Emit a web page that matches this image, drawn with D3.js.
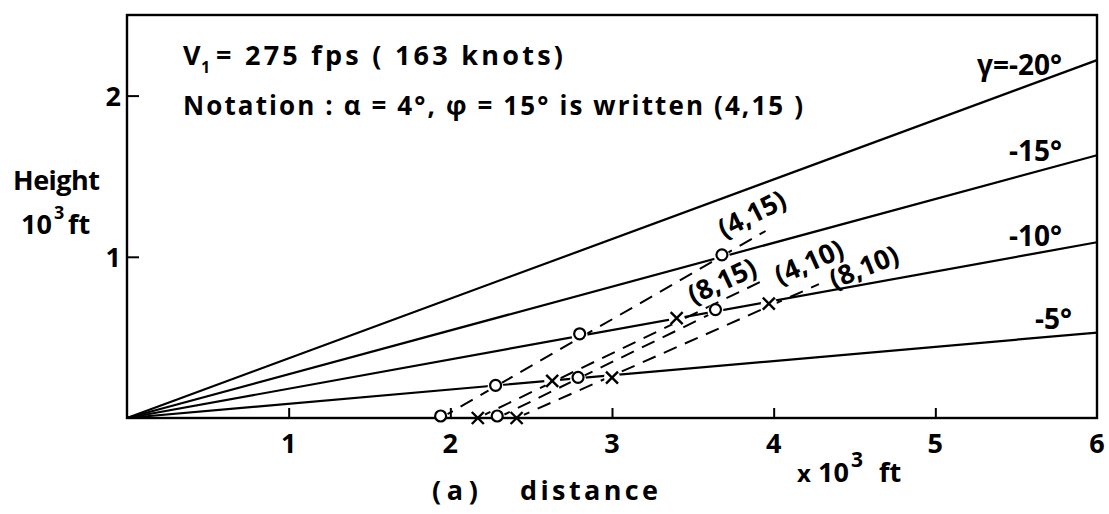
<!DOCTYPE html>
<html>
<head>
<meta charset="utf-8">
<script src="https://cdn.jsdelivr.net/npm/d3@7"></script>
<style>
  body { margin: 0; background: #fff; }
  text { font-family: "Open Sans", "DejaVu Sans", sans-serif; font-weight: 700; fill: #000; }
</style>
</head>
<body>
<svg id="chart" width="1109" height="514"></svg>
<script>
// Axis ticks (distance and height, 10^3 ft)
const xTicks = [1, 2, 3, 4, 5, 6];
const yTicks = [1, 2];

// Flight-path angle lines: label and height reached at 6 x 10^3 ft distance
const gammaLabels = ["γ=-20°", "-15°", "-10°", "-5°"];
const gammaHeightAt6 = [2.22, 1.63, 1.09, 0.53];

// Cases written (alpha, phi); marker type, points where each path meets a gamma line
const caseLabels = ["(4,15)", "(8,15)", "(4,10)", "(8,10)"];
const caseMarkers = ["o", "o", "x", "x"];
const caseDist = [
  [1.94, 2.28, 2.80, 3.68],
  [2.29, 2.79, 3.64],
  [2.17, 2.63, 3.40],
  [2.41, 3.00, 3.97]
];
const caseHeight = [
  [0.00, 0.19, 0.51, 1.00],
  [0.00, 0.24, 0.66],
  [0.00, 0.23, 0.62],
  [0.00, 0.25, 0.71]
];
// where each dashed path runs out, next to its label
const caseEndDist = [3.95, 3.64, 3.95, 4.28];
const caseEndHeight = [1.16, 0.66, 0.86, 0.83];

const svg = d3.select("#chart");
const x = d3.scaleLinear().domain([0, 6]).range([127, 1097]);
const y = d3.scaleLinear().domain([0, 2.5]).range([418, 15]);

// gamma lines from the origin
const line = d3.line().x(d => x(d[0])).y(d => y(d[1]));
svg.append("g").selectAll("path")
  .data(gammaHeightAt6)
  .join("path")
  .attr("d", h => line([[0, 0], [6, h]]))
  .attr("fill", "none").attr("stroke", "#000").attr("stroke-width", 2.2);

// dashed trajectories for each case
const cases = caseLabels.map((lab, i) => ({
  label: lab,
  marker: caseMarkers[i],
  pts: caseDist[i].map((d, j) => [d, caseHeight[i][j]]),
  end: [caseEndDist[i], caseEndHeight[i]]
}));

const allPts = cases.flatMap(c => c.pts.map(p => ({ p, m: c.marker })));

svg.append("g").selectAll("path")
  .data(cases)
  .join("path")
  .attr("d", c => line([c.pts[0], c.end]))
  .attr("fill", "none").attr("stroke", "#000").attr("stroke-width", 2)
  .attr("stroke-dasharray", "14,9");

// white halos leave small gaps in the lines around each marker
svg.append("g").selectAll("circle")
  .data(allPts)
  .join("circle")
  .attr("cx", d => x(d.p[0])).attr("cy", d => y(d.p[1]))
  .attr("r", 8).attr("fill", "#fff");

// frame
svg.append("rect")
  .attr("x", x(0)).attr("y", y(2.5))
  .attr("width", x(6) - x(0)).attr("height", y(0) - y(2.5))
  .attr("fill", "none").attr("stroke", "#000").attr("stroke-width", 2.4);

// markers
const mk = svg.append("g");
allPts.filter(d => d.m === "o").forEach(d => {
  mk.append("circle").attr("cx", x(d.p[0])).attr("cy", y(d.p[1]) - 2)
    .attr("r", 5.5).attr("fill", "#fff").attr("stroke", "#000").attr("stroke-width", 2.2);
});
allPts.filter(d => d.m === "x").forEach(d => {
  const cx = x(d.p[0]), cy = y(d.p[1]), s = 6;
  mk.append("path")
    .attr("d", `M${cx - s},${cy - s}L${cx + s},${cy + s}M${cx + s},${cy - s}L${cx - s},${cy + s}`)
    .attr("stroke", "#000").attr("stroke-width", 2.4);
});

// ticks drawn inside the frame
const xAxis = d3.axisTop(x).tickValues(xTicks.slice(0, 5)).tickSize(10).tickFormat("");
svg.append("g").attr("transform", `translate(0,${y(0)})`).call(xAxis)
  .call(g => g.select(".domain").remove())
  .call(g => g.selectAll("line").attr("stroke-width", 2));
const yAxis = d3.axisRight(y).tickValues(yTicks).tickSize(12).tickFormat("");
svg.append("g").attr("transform", `translate(${x(0)},0)`).call(yAxis)
  .call(g => g.select(".domain").remove())
  .call(g => g.selectAll("line").attr("stroke-width", 2));

// tick labels
svg.append("g").selectAll("text")
  .data(xTicks).join("text")
  .attr("x", d => x(d)).attr("y", 453)
  .attr("text-anchor", "middle").attr("font-size", 27)
  .text(d => d);
svg.append("g").selectAll("text")
  .data(yTicks).join("text")
  .attr("x", 121).attr("y", d => y(d) + 10)
  .attr("text-anchor", "end").attr("font-size", 27)
  .text(d => d);

// gamma line labels
const gPos = [[1062, 75], [1062, 161], [1062, 246], [1072, 329]];
svg.append("g").selectAll("text")
  .data(gammaLabels).join("text")
  .attr("x", (d, i) => gPos[i][0]).attr("y", (d, i) => gPos[i][1])
  .attr("text-anchor", "end").attr("font-size", 28)
  .text(d => d);

// case labels along their paths
const lPos = [[752, 214, -27], [722, 281, -25], [809, 262, -24], [864, 267, -22]];
svg.append("g").selectAll("text")
  .data(caseLabels).join("text")
  .attr("transform", (d, i) => `translate(${lPos[i][0]},${lPos[i][1]}) rotate(${lPos[i][2]})`)
  .attr("text-anchor", "middle").attr("dy", "0.35em").attr("font-size", 27)
  .text(d => d);

// header notes
svg.append("text").attr("x", 183).attr("y", 65).attr("font-size", 27).text("V");
svg.append("text").attr("x", 201).attr("y", 73).attr("font-size", 16).text("1");
svg.append("text").attr("x", 216).attr("y", 65).attr("font-size", 27)
  .attr("textLength", 347).attr("lengthAdjust", "spacing")
  .text("= 275 fps ( 163 knots)");
svg.append("text").attr("x", 183).attr("y", 115).attr("font-size", 26)
  .attr("textLength", 620).attr("lengthAdjust", "spacing")
  .text("Notation :  α = 4°,  φ = 15° is written (4,15 )");

// axis titles
svg.append("text").attr("x", 13).attr("y", 190).attr("font-size", 27)
  .attr("textLength", 87).attr("lengthAdjust", "spacing").text("Height");
svg.append("text").attr("x", 21).attr("y", 234).attr("font-size", 27).text("10");
svg.append("text").attr("x", 54).attr("y", 219).attr("font-size", 18).text("3");
svg.append("text").attr("x", 68).attr("y", 234).attr("font-size", 27).text("ft");

svg.append("text").attr("x", 797).attr("y", 482).attr("font-size", 24).text("x");
svg.append("text").attr("x", 818).attr("y", 482).attr("font-size", 27).text("10");
svg.append("text").attr("x", 851).attr("y", 467).attr("font-size", 21).text("3");
svg.append("text").attr("x", 879).attr("y", 482).attr("font-size", 27).text("ft");

svg.append("text").attr("x", 432).attr("y", 500).attr("font-size", 27)
  .attr("textLength", 46).attr("lengthAdjust", "spacing").text("(a)");
svg.append("text").attr("x", 520).attr("y", 500).attr("font-size", 27)
  .attr("textLength", 138).attr("lengthAdjust", "spacing").text("distance");
</script>
</body>
</html>
